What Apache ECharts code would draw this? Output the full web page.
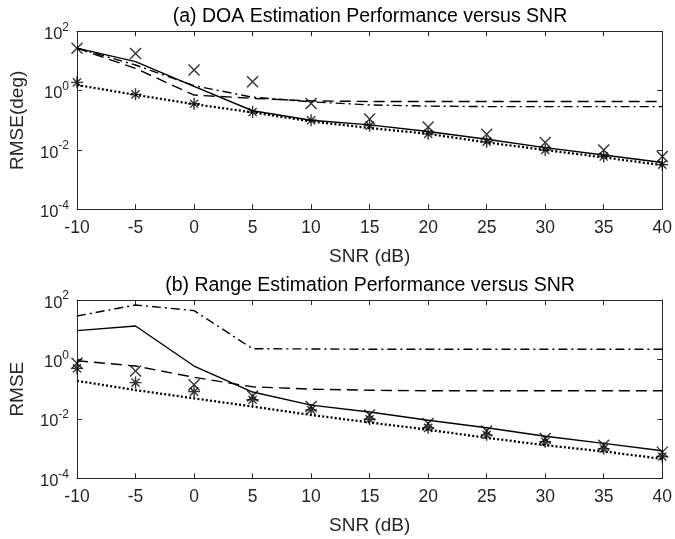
<!DOCTYPE html>
<html>
<head>
<meta charset="utf-8">
<script src="https://cdn.jsdelivr.net/npm/echarts@6/dist/echarts.min.js"></script>
<style>
html,body{margin:0;padding:0;background:#fff;}
#chart{width:675px;height:539px;}
</style>
</head>
<body>
<div id="chart"></div>
<script>
// ---- data ----
const snr = [-10, -5, 0, 5, 10, 15, 20, 25, 30, 35, 40];
const xTicks = [-10, -5, 0, 5, 10, 15, 20, 25, 30, 35, 40];

// (a) DOA RMSE (deg)
const doaSolid   = [27, 9.5, 1.4, 0.21, 0.10, 0.07, 0.042, 0.023, 0.012, 0.0068, 0.0038];
const doaDashed  = [27, 5.6, 0.71, 0.55, 0.45, 0.43, 0.43, 0.43, 0.43, 0.43, 0.43];
const doaDashDot = [27, 7.3, 1.47, 0.6, 0.42, 0.33, 0.30, 0.29, 0.29, 0.29, 0.29];
const doaDotted  = [1.55, 0.72, 0.35, 0.185, 0.092, 0.055, 0.035, 0.018, 0.01, 0.0056, 0.0031];
const doaCross   = [27, 18, 5, 2, 0.37, 0.11, 0.06, 0.034, 0.018, 0.01, 0.006];
const doaStar    = [1.9, 0.75, 0.36, 0.19, 0.10, 0.066, 0.035, 0.019, 0.01, 0.006, 0.0032];

// (b) Range RMSE
const rngSolid   = [9.3, 13.3, 0.6, 0.08, 0.029, 0.017, 0.009, 0.005, 0.0026, 0.0015, 0.00085];
const rngDashed  = [0.9, 0.6, 0.25, 0.12, 0.1, 0.092, 0.088, 0.088, 0.088, 0.088, 0.088];
const rngDashDot = [29, 68, 44, 2.3, 2.25, 2.2, 2.2, 2.2, 2.2, 2.2, 2.2];
const rngDotted  = [0.19, 0.093, 0.049, 0.026, 0.0135, 0.0076, 0.0043, 0.0023, 0.0013, 0.0008, 0.00045];
const rngCross   = [0.74, 0.41, 0.14, 0.059, 0.026, 0.0135, 0.007, 0.0039, 0.0022, 0.0013, 0.00076];
const rngStar    = [0.5, 0.166, 0.083, 0.044, 0.02, 0.0097, 0.005, 0.0029, 0.0017, 0.001, 0.00054];

// ---- chart ----
const FONT = 'Liberation Sans, Arial, Helvetica, sans-serif';
const AX = '#262626';
const chart = echarts.init(document.getElementById('chart'), null, {renderer: 'canvas'});

function pairs(ys) { return snr.map((x, i) => [x, ys[i]]); }

const crossPath = 'path://M0,0L10,10M10,0L0,10';
const starPath = 'path://M5,0L5,10M0,5L10,5M1.6,1.6L8.4,8.4M8.4,1.6L1.6,8.4';

const grids = [
  {left: 77, right: 10.5, top: 31.3, height: 178},
  {left: 77, right: 10.5, top: 300, height: 178.3}
];

function xAxesFor(gi) {
  const base = {
    type: 'value', gridIndex: gi, min: -10, max: 40, interval: 5,
    axisLine: {show: true, onZero: false, lineStyle: {color: AX, width: 1}},
    axisTick: {show: true, inside: true, length: 5, lineStyle: {color: AX}},
    splitLine: {show: false}
  };
  return [
    Object.assign({}, base, {
      position: 'bottom',
      name: 'SNR (dB)', nameLocation: 'middle', nameGap: 38,
      nameTextStyle: {fontFamily: FONT, fontSize: 19, color: AX},
      axisLabel: {fontFamily: FONT, fontSize: 17.5, color: AX, margin: 10,
        customValues: xTicks, formatter: v => String(v)}
    }),
    Object.assign({}, base, {position: 'top', axisLabel: {show: false}})
  ];
}

function yAxesFor(gi, name) {
  const base = {
    type: 'log', logBase: 10, gridIndex: gi, min: 1e-4, max: 1e2, interval: 2,
    axisLine: {show: true, onZero: false, lineStyle: {color: AX, width: 1}},
    axisTick: {show: true, inside: true, length: 5, lineStyle: {color: AX}},
    minorTick: {show: false},
    splitLine: {show: false}
  };
  return [
    Object.assign({}, base, {
      position: 'left',
      name: name, nameLocation: 'middle', nameGap: 50,
      nameTextStyle: {fontFamily: FONT, fontSize: 19, color: AX},
      axisLabel: {
        fontFamily: FONT, color: AX, margin: 8,
        formatter: v => '{b|10}{s|' + Math.round(Math.log10(v)) + '}',
        rich: {
          b: {fontFamily: FONT, fontSize: 16.5, color: AX, padding: [6, 0, 0, 0]},
          s: {fontFamily: FONT, fontSize: 12, color: AX, padding: [0, 0, 8, 0]}
        }
      }
    }),
    Object.assign({}, base, {position: 'right', axisLabel: {show: false}})
  ];
}

function lineSeries(gi, ys, type, width) {
  return {
    type: 'line', xAxisIndex: gi * 2, yAxisIndex: gi * 2, data: pairs(ys),
    symbol: 'none', silent: true, animation: false,
    lineStyle: {color: '#000', width: width, type: type}
  };
}
function markSeries(gi, ys, path, size) {
  return {
    type: 'scatter', xAxisIndex: gi * 2, yAxisIndex: gi * 2, data: pairs(ys),
    symbol: path, symbolSize: size, silent: true, animation: false,
    itemStyle: {color: 'rgba(0,0,0,0)', borderColor: '#000', borderWidth: 1.4}
  };
}

const DASH = [11, 6];
const DASHDOT = [9, 4, 2, 4];
const DOT = [2, 2.2];

const option = {
  backgroundColor: '#fff',
  animation: false,
  title: [
    {text: '(a) DOA Estimation Performance versus SNR', left: 370, top: 7, padding: 0, textAlign: 'center',
     textStyle: {fontFamily: FONT, fontSize: 19.5, fontWeight: 'normal', color: '#000'}},
    {text: '(b) Range Estimation Performance versus SNR', left: 370, top: 276, padding: 0, textAlign: 'center',
     textStyle: {fontFamily: FONT, fontSize: 19.5, fontWeight: 'normal', color: '#000'}}
  ],
  grid: grids,
  xAxis: [].concat(xAxesFor(0), xAxesFor(1)),
  yAxis: [].concat(yAxesFor(0, 'RMSE(deg)'), yAxesFor(1, 'RMSE')),
  series: [
    lineSeries(0, doaSolid, 'solid', 1.4),
    lineSeries(0, doaDashed, DASH, 1.4),
    lineSeries(0, doaDashDot, DASHDOT, 1.4),
    lineSeries(0, doaDotted, DOT, 2.3),
    markSeries(0, doaCross, crossPath, 11),
    markSeries(0, doaStar, starPath, 12),
    lineSeries(1, rngSolid, 'solid', 1.4),
    lineSeries(1, rngDashed, DASH, 1.4),
    lineSeries(1, rngDashDot, DASHDOT, 1.4),
    lineSeries(1, rngDotted, DOT, 2.3),
    markSeries(1, rngCross, crossPath, 11),
    markSeries(1, rngStar, starPath, 12)
  ]
};
chart.setOption(option);
</script>
</body>
</html>
